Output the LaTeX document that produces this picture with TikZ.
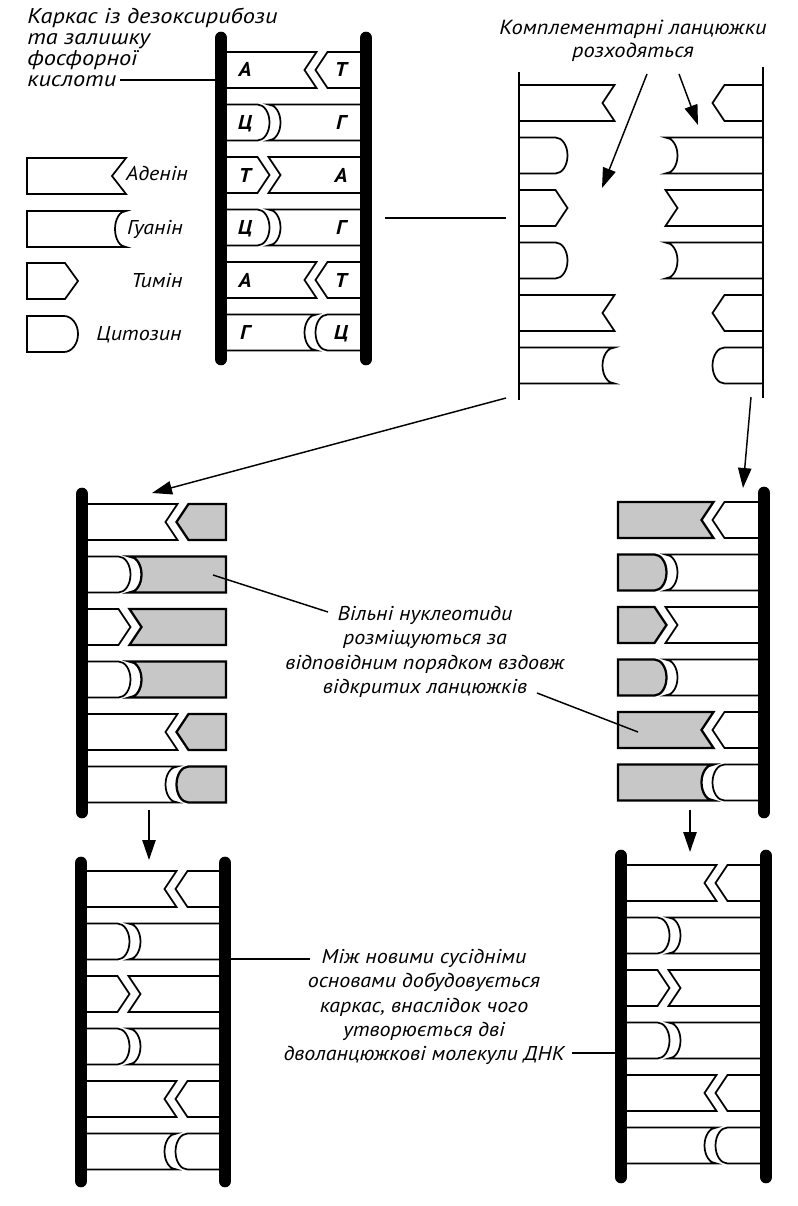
\documentclass[tikz,border=0pt]{standalone}
\usepackage{fontspec}
\setmainfont{PT Sans}[FakeStretch=1.1]
\newfontfamily\widefont{PT Sans}[FakeStretch=1.14]
\usepackage{tikz}
\usetikzlibrary{arrows.meta}

% interface of a base: from (#1,#2) down 36 units, depth #3
\newcommand{\vcut}[3]{-- ({#1+(#3)},{#2+18}) -- ({#1},{#2+36})}
\newcommand{\rcut}[3]{.. controls ({#1+0.55*(#3)},{#2}) and ({#1+(#3)},{#2+8}) .. ({#1+(#3)},{#2+18}) .. controls ({#1+(#3)},{#2+28}) and ({#1+0.55*(#3)},{#2+36}) .. ({#1},{#2+36})}
% one base: style, back x, front x, top y, v/r, depth
\newcommand{\piece}[6]{\draw[#1] ({#2},{#4}) -- ({#3},{#4}) \csname #5cut\endcsname{#3}{#4}{#6} -- ({#2},{#4+36}) -- cycle;}
% one pair: left x, right x, top y, v/r, depth, left style, right style
\newcommand{\rung}[7]{%
  \pgfmathsetmacro\cc{(#5)>0 ? #1+42 : #1+101}%
  \piece{#6}{#1}{\cc-5.5}{#3}{#4}{#5}%
  \piece{#7}{#2}{\cc+5.5}{#3}{#4}{#5}}

\tikzset{
  piece/.style={draw, line width=1.3pt, fill=white},
  newpiece/.style={piece, fill=black!22, line width=1.7pt},
  nopiece/.style={draw=none},
  backbone/.style={line width=9.5pt, line cap=round},
  strand/.style={line width=1.5pt},
  txt/.style={font=\itshape\fontsize{15}{18.2}\selectfont, inner sep=0pt},
  lett/.style={font=\bfseries\itshape\fontsize{15}{18}\selectfont, inner sep=0pt},
  arr/.style={line width=1.1pt, -{Triangle[length=15pt,width=10pt]}},
  lin/.style={line width=1.1pt}
}

\begin{document}
\begin{tikzpicture}[x=0.75pt, y=-0.75pt]
  \useasboundingbox (0,0) rectangle (798,1206);

  % legend
  \piece{piece}{27}{126}{158}{v}{-14}
  \piece{piece}{27}{126}{211}{r}{-11}
  \piece{piece}{27}{65}{263}{v}{13}
  \piece{piece}{27}{64}{316}{r}{14}
  \node[txt, anchor=base] (aden) at (157,180) {Аденін};
  \node[txt, anchor=base] (guan) at (155,234) {Гуанін};
  \node[txt, anchor=base] (thym) at (157,287) {Тимін};
  \node[txt, anchor=base] (cyto) at (139,340) {Цитозин};

  % all six blocks, row by row
  \foreach \sh/\dd [count=\i from 0] in {v/-12, r/12, v/12, r/12, v/-12, r/-12}{
    \rung{221}{366}{52+52.5*\i}{\sh}{\dd}{piece}{piece}
    \rung{519}{664}{85+52.5*\i}{\sh}{\dd}{piece}{nopiece}
    \rung{618}{763}{85+52.5*\i}{\sh}{\dd}{nopiece}{piece}
    \rung{82}{226}{504+52.5*\i}{\sh}{\dd}{piece}{newpiece}
    \rung{618}{764}{502+52.5*\i}{\sh}{\dd}{newpiece}{piece}
    \rung{81}{225}{871+52.5*\i}{\sh}{\dd}{piece}{piece}
    \rung{621}{766}{865+52.5*\i}{\sh}{\dd}{piece}{piece}
  }
  \foreach \a/\b [count=\i from 0] in {А/Т, Ц/Г, Т/А, Ц/Г, А/Т, Г/Ц}{
    \node[lett, anchor=base] (bl\i) at (245,{77+52.5*\i}) {\a};
    \node[lett, anchor=base] (br\i) at (341,{77+52.5*\i}) {\b};
  }

  % backbones
  \draw[backbone] (221,38) -- (221,359);
  \draw[backbone] (366,38) -- (366,359);
  \draw[strand] (519,72) -- (519,400);
  \draw[strand] (763,67) -- (763,398);
  \draw[backbone] (82,494) -- (82,812);
  \draw[backbone] (764,493) -- (764,812);
  \draw[backbone] (81,863) -- (81,1181);
  \draw[backbone] (225,863) -- (225,1181);
  \draw[backbone] (621,856) -- (621,1177);
  \draw[backbone] (766,856) -- (766,1177);

  % texts
  \node[txt, align=left, anchor=west, font=\widefont\itshape\fontsize{16}{15.75}\selectfont] (frame) at (27,47)
    {Каркас із дезоксирибози\\та залишку\\фосфорної\\кислоти};
  \node[txt, align=center, font=\itshape\fontsize{15.3}{17.25}\selectfont] (split) at (633,41)
    {Комплементарні ланцюжки\\розходяться};
  \node[txt, align=center] (free) at (425,652)
    {Вільні нуклеотиди\\розміщуються за\\відповідним порядком вздовж\\відкритих ланцюжків};
  \node[txt, align=center] (build) at (424,1007)
    {Між новими сусідніми\\основами добудовується\\каркас, внаслідок чого\\утворюється дві\\дволанцюжкові молекули ДНК};

  % connectors
  \coordinate (kEnd) at (120,80);  \coordinate (kBb) at (221,80);
  \coordinate (topR) at (385,218); \coordinate (sepL) at (506,218);
  \coordinate (s1) at (647,74);    \coordinate (s1e) at (602,188);
  \coordinate (s2) at (679,74);    \coordinate (s2e) at (698,125);
  \coordinate (dl) at (506,398);   \coordinate (dle) at (152,493);
  \coordinate (dr) at (751,397);   \coordinate (dre) at (743,488);
  \coordinate (ml) at (149,810);   \coordinate (mle) at (149,860);
  \coordinate (mr) at (690,810);   \coordinate (mre) at (690,852);
  \coordinate (f1) at (328,612);   \coordinate (f1e) at (213,575);
  \coordinate (f2) at (537,693);   \coordinate (f2e) at (638,732);
  \coordinate (b1) at (230,959);   \coordinate (b1e) at (310,959);
  \coordinate (b2) at (572,1053);  \coordinate (b2e) at (618,1053);

  \draw[lin] (kEnd) -- (kBb);
  \draw[lin] (topR) -- (sepL);
  \draw[arr] (s1) -- (s1e);
  \draw[arr] (s2) -- (s2e);
  \draw[arr] (dl) -- (dle);
  \draw[arr] (dr) -- (dre);
  \draw[arr] (ml) -- (mle);
  \draw[arr] (mr) -- (mre);
  \draw[lin] (f1) -- (f1e);
  \draw[lin] (f2) -- (f2e);
  \draw[lin] (b1) -- (b1e);
  \draw[lin] (b2) -- (b2e);
\end{tikzpicture}
\end{document}
